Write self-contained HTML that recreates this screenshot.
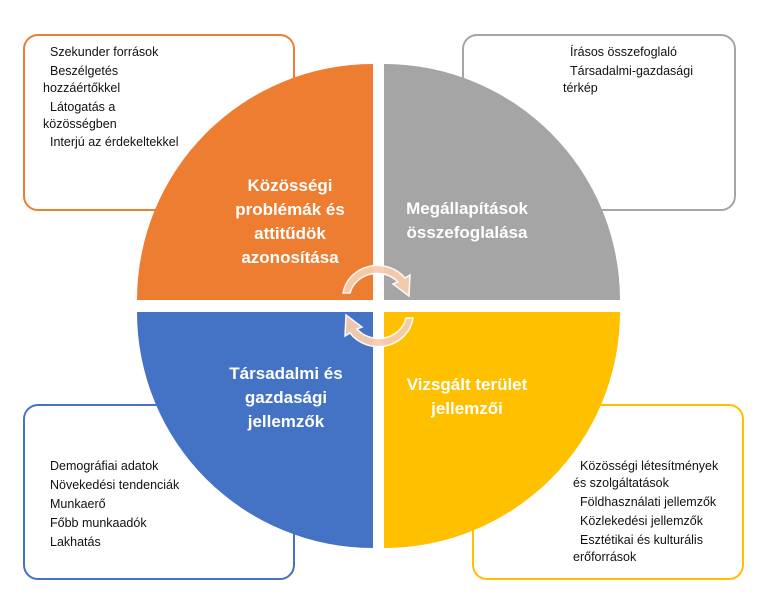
<!DOCTYPE html>
<html><head><meta charset="utf-8"><style>
html,body{margin:0;padding:0;background:#fff}
svg{display:block}
text{font-family:"Liberation Sans",sans-serif}
.s{font-size:12.5px;fill:#111}
.b{font-size:17px;font-weight:bold;fill:#fff}
</style></head><body>
<svg width="761" height="598" viewBox="0 0 761 598" xmlns="http://www.w3.org/2000/svg">
<rect x="24" y="35" width="270" height="175" rx="14" fill="#fff" stroke="#ED7D31" stroke-width="2"/>
<rect x="463" y="35" width="272" height="175" rx="14" fill="#fff" stroke="#A5A5A5" stroke-width="2"/>
<rect x="24" y="405" width="270" height="174" rx="14" fill="#fff" stroke="#4472C4" stroke-width="2"/>
<rect x="473" y="405" width="270" height="174" rx="14" fill="#fff" stroke="#FFC000" stroke-width="2"/>
<path d="M373,300 L137,300 A236,236 0 0 1 373,64 Z" fill="#ED7D31"/>
<path d="M384,300 L384,64 A236,236 0 0 1 620,300 Z" fill="#A5A5A5"/>
<path d="M373,312 L373,548 A236,236 0 0 1 137,312 Z" fill="#4472C4"/>
<path d="M384,312 L620,312 A236,236 0 0 1 384,548 Z" fill="#FFC000"/>
<g fill="#F8CBAD" stroke="#fff" stroke-width="1.5" opacity="0.95">
<path d="M343,293 A35,33 0 0 1 405,278 L410,275 L409,296 L393,284 L398,282 A28,26 0 0 0 350,293 Z"/>
<path d="M413,318 A35,33 0 0 1 350,333 L345,336 L346,315 L362,327 L357,329 A28,26 0 0 0 406,318 Z"/>
</g>
<g class="s">
<text x="50" y="56">Szekunder források</text>
<text x="50" y="75">Beszélgetés</text>
<text x="43" y="92">hozzáértőkkel</text>
<text x="50" y="111">Látogatás a</text>
<text x="43" y="128">közösségben</text>
<text x="50" y="146">Interjú az érdekeltekkel</text>
<text x="570" y="56">Írásos összefoglaló</text>
<text x="570" y="75">Társadalmi-gazdasági</text>
<text x="563" y="92">térkép</text>
<text x="50" y="470">Demográfiai adatok</text>
<text x="50" y="489">Növekedési tendenciák</text>
<text x="50" y="508">Munkaerő</text>
<text x="50" y="527">Főbb munkaadók</text>
<text x="50" y="546">Lakhatás</text>
<text x="580" y="470">Közösségi létesítmények</text>
<text x="573" y="487">és szolgáltatások</text>
<text x="580" y="506">Földhasználati jellemzők</text>
<text x="580" y="525">Közlekedési jellemzők</text>
<text x="580" y="544">Esztétikai és kulturális</text>
<text x="573" y="561">erőforrások</text>
</g>
<g class="b" text-anchor="middle">
<text x="290" y="191">Közösségi</text>
<text x="290" y="215">problémák és</text>
<text x="290" y="239">attitűdök</text>
<text x="290" y="263">azonosítása</text>
<text x="467" y="214">Megállapítások</text>
<text x="467" y="238">összefoglalása</text>
<text x="286" y="379">Társadalmi és</text>
<text x="286" y="403">gazdasági</text>
<text x="286" y="427">jellemzők</text>
<text x="467" y="390">Vizsgált terület</text>
<text x="467" y="414">jellemzői</text>
</g>
</svg>
</body></html>
